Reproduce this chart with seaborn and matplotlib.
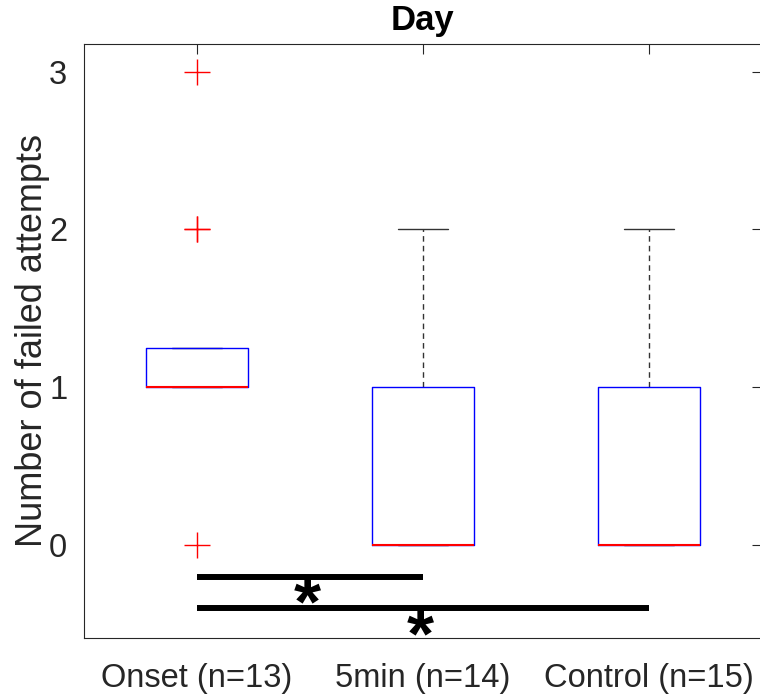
import numpy as np
import pandas as pd
import matplotlib
matplotlib.use("Agg")
import matplotlib as mpl
import matplotlib.pyplot as plt
import seaborn as sns

# Number of failed attempts per animal, by condition
groups = ["Onset (n=13)", "5min (n=14)", "Control (n=15)"]
onset = [0, 1, 1, 1, 1, 1, 1, 1, 1, 1, 2, 2, 3]
five_min = [0, 0, 0, 0, 0, 0, 0, 0, 1, 1, 1, 1, 2, 2]
control = [0, 0, 0, 0, 0, 0, 0, 0, 0, 1, 1, 1, 1, 2, 2]

# Significant pairwise comparisons (group indices) and bar heights
sig_pairs = [(0, 1), (0, 2)]
sig_heights = [-0.2, -0.4]
sig_labels = ["*", "*"]

y_ticks = [0, 1, 2, 3]

df = pd.DataFrame({
    "group": np.repeat(groups, [len(onset), len(five_min), len(control)]),
    "attempts": np.concatenate([onset, five_min, control]).astype(float),
})


def hazen_boxplot_stats(X, whis=1.5, bootstrap=None, labels=None, autorange=False):
    """Box statistics with quartiles at (i - 0.5) / n, Tukey whiskers
    that never reach back inside the box."""
    out = []
    for x in X:
        x = np.asarray(x, dtype=float)
        q1, med, q3 = np.quantile(x, [0.25, 0.5, 0.75], method="hazen")
        iqr = q3 - q1
        lo, hi = q1 - whis * iqr, q3 + whis * iqr
        inside = x[(x >= lo) & (x <= hi)]
        out.append(dict(
            mean=x.mean(), iqr=iqr, cilo=med, cihi=med,
            q1=q1, med=med, q3=q3,
            whislo=min(inside.min(), q1) if inside.size else q1,
            whishi=max(inside.max(), q3) if inside.size else q3,
            fliers=x[(x < lo) | (x > hi)],
        ))
    return out


mpl.cbook.boxplot_stats = hazen_boxplot_stats

sns.set_theme(style="white")
plt.rcParams["font.family"] = ["Liberation Sans", "DejaVu Sans"]
plt.rcParams["mathtext.fontset"] = "custom"
plt.rcParams["mathtext.rm"] = "Liberation Sans:bold"
plt.rcParams["mathtext.bf"] = "Liberation Sans:bold"

fig = plt.figure(figsize=(7.6, 6.94), dpi=100)
ax = fig.add_axes([0.1105, 0.0811, 0.8921, 0.8551])

sns.boxplot(
    data=df, x="group", y="attempts", order=groups, ax=ax,
    fill=False, color="blue", width=0.45, linewidth=1.0,
    boxprops=dict(color="#0000ff"),
    medianprops=dict(color="#ff0000", linewidth=1.5),
    whiskerprops=dict(color="#333333", linestyle=(0, (4, 3)), linewidth=1.0),
    capprops=dict(color="#333333", linewidth=1.0),
    flierprops=dict(marker="+", markeredgecolor="#ff0000", markerfacecolor="none",
                    markersize=19, markeredgewidth=1.0),
)

# Keep medians above the box outlines, and the box above the caps
for ln in ax.lines:
    c = mpl.colors.to_hex(ln.get_color())
    if c == "#ff0000" and ln.get_marker() in ("None", "", None):
        ln.set_zorder(5)
    elif c == "#0000ff":
        ln.set_zorder(4)

# Significance bars with stars underneath
for (a, b), h, lab in zip(sig_pairs, sig_heights, sig_labels):
    ax.plot([a, b], [h, h], color="black", linewidth=4.3, solid_capstyle="butt")
    ax.text((a + b) / 2 - 0.01, h - 0.185, rf"$\mathbf{{{lab}}}$", ha="center",
            va="center", fontsize=50, color="black")

ax.set_xlim(-0.5, 2.5)
ax.set_ylim(-0.588, 3.174)
ax.set_yticks(y_ticks)
ax.set_yticklabels([str(t) for t in y_ticks])
ax.set_xlabel("")
ax.set_ylabel("Number of failed attempts", fontsize=26, color="#262626", labelpad=-0.5)
ax.set_title("Day", fontsize=25, fontweight="bold", color="black", pad=10)

ax.tick_params(axis="both", direction="in", length=7, width=0.8, color="#262626",
               labelsize=23.5, labelcolor="#262626", top=True, right=True)
ax.tick_params(axis="x", pad=18)
ax.tick_params(axis="y", pad=12)
for s in ax.spines.values():
    s.set_visible(True)
    s.set_color("#262626")
    s.set_linewidth(0.8)

fig.savefig("out.png", dpi=100)
